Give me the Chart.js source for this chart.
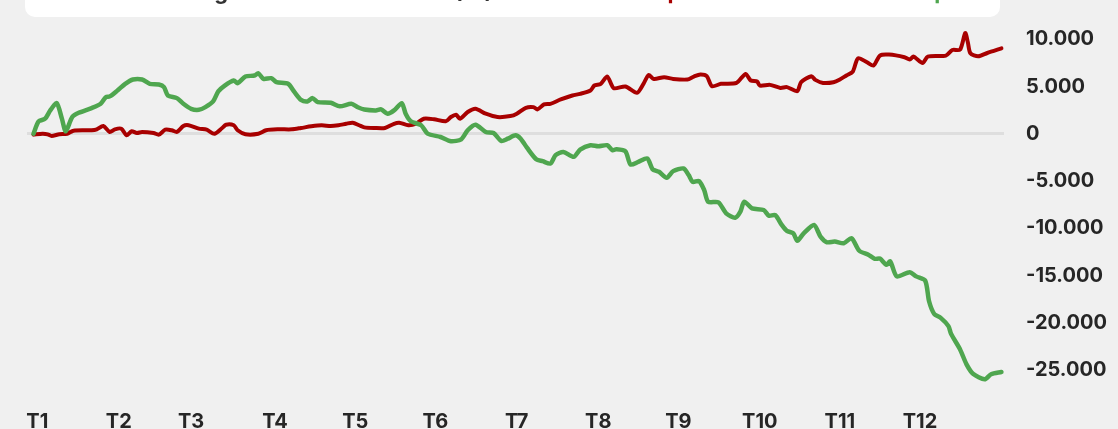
<!DOCTYPE html>
<html lang="pt-BR">
<head>
<meta charset="utf-8">
<title>Resultado acumulado</title>
<script src="https://cdn.jsdelivr.net/npm/chart.js@4.4.1/dist/chart.umd.min.js"></script>
<style>
  html, body { margin: 0; padding: 0; background: #f0f0f0; overflow: hidden; }
  #wrap { position: relative; width: 1118px; height: 429px; }
  #titulo {
    position: absolute; left: 25px; top: -40px; width: 975px; height: 57px;
    background: #fff; border-radius: 10px; z-index: 2;
    font-family: Inter, sans-serif; font-weight: 700; font-size: 22px; line-height: 1;
  }
  #titulo span { position: absolute; top: 20px; white-space: nowrap; }
  .t1 { right: 507px; color: #333; }
  .t2 { left: 524px; color: #a80000; }
  .t3 { right: 39px; color: #4fa64f; }
</style>
</head>
<body>
<div id="wrap">
  <div id="titulo">
    <span class="t1">Retorno da estratégia acumulado no ano (%)</span>
    <span class="t2">Renda fixa prefixada</span>
    <span class="t3">Bolsa: Ibovespa</span>
  </div>
  <canvas id="grafico" width="1118" height="429"></canvas>
</div>
<script>
// trimestres (posição em dias úteis)
const trimestres = ['T1', 'T2', 'T3', 'T4', 'T5', 'T6', 'T7', 'T8', 'T9', 'T10', 'T11', 'T12'];
const inicioTrimestre = [3, 66, 122, 187, 249, 311, 374, 437, 499, 562, 624, 686];
const yTicks = [10000, 5000, 0, -5000, -10000, -15000, -20000, -25000];

// serie verde
const diasVerde = [0, 4, 9, 13, 18, 22, 25, 30, 35, 45, 52, 56, 59, 65, 71, 77, 84, 90, 97, 101,
  104, 111, 116, 122, 128, 133, 139, 143, 148, 155, 158, 164, 171, 174, 178, 184, 188, 197, 202, 207,
  212, 216, 220, 230, 237, 246, 251, 256, 265, 269, 274, 279, 285, 288, 292, 300, 305, 315, 323, 331,
  336, 342, 350, 356, 362, 367, 373, 377, 382, 389, 394, 400, 404, 410, 418, 423, 431, 437, 444, 448,
  451, 458, 462, 468, 475, 479, 484, 490, 495, 503, 507, 510, 515, 519, 522, 530, 536, 543, 547, 550,
  556, 565, 569, 574, 579, 583, 588, 591, 596, 604, 609, 614, 620, 627, 633, 639, 646, 651, 655, 660,
  663, 668, 678, 683, 690, 693, 697, 702, 708, 710, 717, 722, 727, 736, 741, 749];
const valoresVerde = [0, 1300, 1590, 2470, 3240, 1600, 260, 1770, 2220, 2720, 3170, 3870, 3950, 4580, 5280, 5740, 5740, 5280, 5210, 4930,
  4050, 3770, 3170, 2640, 2540, 2820, 3420, 4480, 5100, 5630, 5350, 6050, 6160, 6400, 5800, 5880, 5450, 5280, 4400, 3590,
  3420, 3770, 3350, 3280, 2900, 3170, 2800, 2560, 2470, 2580, 2120, 2470, 3240, 2120, 1320, 900, 10, -340, -790, -580,
  370, 960, 190, 80, -760, -520, -160, -520, -1500, -2690, -2900, -3150, -2260, -1920, -2440, -1670, -1210, -1320, -1210, -1740,
  -1630, -1840, -3250, -2970, -2620, -3740, -4020, -4650, -3950, -3670, -4370, -5080, -5000, -5950, -7180, -7250, -8410, -8870, -8230, -7180,
  -7890, -8060, -8660, -8600, -9640, -10270, -10520, -11320, -10520, -9640, -10870, -11470, -11390, -11570, -11040, -12370, -12790, -13220, -13200, -13850,
  -13500, -15080, -14630, -15080, -15530, -17710, -19050, -19470, -20340, -21150, -22800, -24380, -25370, -25960, -25430, -25190];

// serie vermelha
const diasVermelho = [0, 7, 11, 14, 20, 26, 31, 45, 49, 54, 59, 63, 68, 72, 76, 80, 84, 93, 97, 102,
  107, 111, 116, 120, 128, 134, 140, 146, 149, 155, 158, 164, 174, 180, 189, 200, 207, 215, 223, 230,
  236, 242, 247, 252, 256, 264, 272, 279, 283, 290, 296, 302, 310, 319, 323, 327, 330, 336, 342, 350,
  359, 369, 374, 381, 387, 390, 395, 400, 408, 417, 423, 431, 434, 439, 444, 449, 458, 467, 472, 476,
  480, 488, 495, 506, 511, 516, 521, 525, 532, 544, 551, 555, 560, 562, 570, 578, 583, 591, 594, 602,
  605, 611, 619, 624, 629, 634, 638, 645, 650, 655, 662, 674, 678, 681, 688, 692, 706, 711, 717, 721,
  723, 725, 731, 738, 749];
const valoresVermelho = [-90, 0, -60, -230, -50, 0, 330, 370, 470, 820, 190, 470, 540, -160, 260, 80, 190, 80, -90, 430,
  370, 190, 820, 900, 540, 430, 0, 610, 960, 900, 370, -50, 0, 370, 470, 470, 610, 790, 900, 820,
  900, 1060, 1170, 900, 680, 610, 610, 1060, 1170, 900, 1060, 1590, 1530, 1320, 1770, 2010, 1590, 2300, 2640, 2120,
  1770, 1870, 2120, 2750, 2820, 2580, 3100, 3170, 3630, 4050, 4220, 4580, 5100, 5280, 6050, 4820, 5000, 4330, 5280, 6220,
  5800, 5980, 5800, 5740, 6050, 6270, 6090, 5030, 5280, 5380, 6330, 5630, 5530, 5100, 5170, 4850, 4930, 4510, 5450, 6090,
  5700, 5380, 5450, 5740, 6160, 6580, 7980, 7560, 7210, 8270, 8370, 8090, 7850, 8160, 7490, 8160, 8270, 8860, 8900, 10650,
  9670, 8510, 8190, 8540, 9030];

function formata(v) {
  const s = Math.abs(v).toString().replace(/\B(?=(\d{3})+(?!\d))/g, '.');
  return (v < 0 ? '-' : '') + s;
}

const fonteEixo = { family: 'Inter', size: 20, weight: 'bold' };

const ctx = document.getElementById('grafico').getContext('2d');
new Chart(ctx, {
  type: 'line',
  data: {
    datasets: [{
      label: 'Bolsa',
      data: diasVerde.map((d, i) => ({ x: d, y: valoresVerde[i] })),
      borderColor: '#4fa64f',
      borderWidth: 4.5,
      pointRadius: 0,
      tension: 0.25,
      clip: false,
      borderCapStyle: 'round',
      borderJoinStyle: 'round'
    }, {
      label: 'Renda fixa',
      data: diasVermelho.map((d, i) => ({ x: d, y: valoresVermelho[i] })),
      borderColor: '#a80000',
      borderWidth: 4,
      pointRadius: 0,
      tension: 0.25,
      clip: false,
      borderCapStyle: 'round',
      borderJoinStyle: 'round'
    }]
  },
  options: {
    responsive: false,
    animation: false,
    devicePixelRatio: 1,
    layout: { padding: { left: 27, top: 21.7, right: -11, bottom: -31.4 } },
    plugins: {
      legend: { display: false },
      tooltip: { enabled: false }
    },
    scales: {
      x: {
        type: 'linear',
        min: -5,
        max: 751,
        grid: { display: false, drawTicks: false },
        border: { display: false },
        afterBuildTicks: axis => { axis.ticks = inicioTrimestre.map(v => ({ value: v })); },
        ticks: {
          autoSkip: false,
          maxRotation: 0,
          padding: 26,
          color: '#262626',
          font: fonteEixo,
          callback: (v, i) => trimestres[i]
        }
      },
      y: {
        position: 'right',
        min: -26500,
        max: 10550,
        grid: {
          drawTicks: false,
          lineWidth: 3,
          color: c => (c.tick && c.tick.value === 0 ? '#dedede' : 'rgba(0,0,0,0)')
        },
        border: { display: false },
        afterBuildTicks: axis => { axis.ticks = yTicks.map(v => ({ value: v })); },
        ticks: {
          padding: 22,
          color: '#262626',
          font: fonteEixo,
          callback: v => formata(v)
        }
      }
    }
  }
});
</script>
</body>
</html>
